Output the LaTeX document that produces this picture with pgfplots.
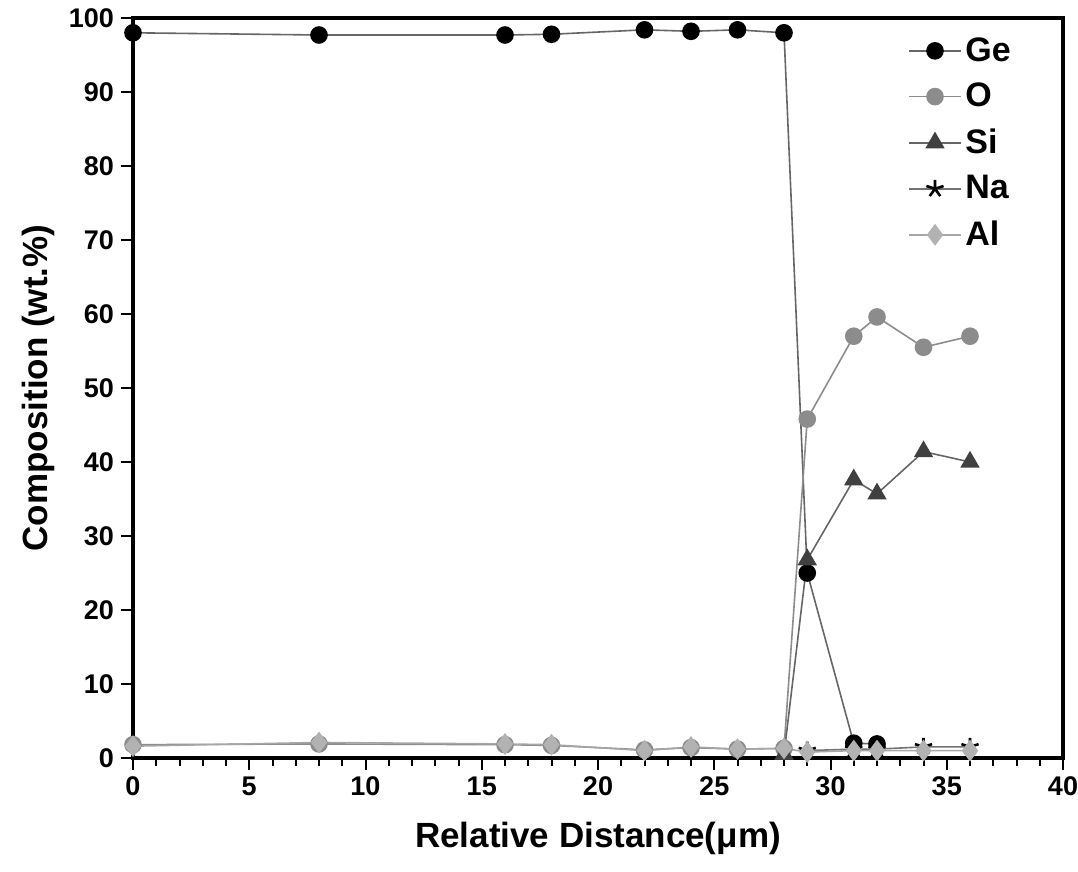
\documentclass[border=0pt]{standalone}
\usepackage{pgfplots}
\pgfplotsset{compat=1.18}
\usepackage{fontspec}
\setmainfont{Liberation Sans}
\begin{document}
\begin{tikzpicture}
\begin{axis}[name=ax,
  scale only axis, width=465pt, height=370pt,
  xmin=0, xmax=40, ymin=0, ymax=100,
  xtick={0,5,...,40}, ytick={0,10,...,100},
  minor x tick num=4,
  tick align=outside,
  xtick pos=bottom, ytick pos=left,
  major tick length=6pt, minor tick length=4pt,
  axis line style={line width=1.6pt},
  every tick/.style={line width=1pt, black},
  /pgf/number format/assume math mode=true,
  tick label style={font=\bfseries\fontsize{13.5}{15}\selectfont},
  xlabel={\textbf{Relative Distance(μm)}},
  ylabel={\textbf{Composition (wt.\%)}},
  label style={font=\bfseries\fontsize{17.5}{19}\selectfont},
  xlabel style={yshift=-6pt},
  ylabel style={yshift=0pt},
  legend style={draw=none, fill=none, at={(0.955,0.985)}, anchor=north east,
    font=\bfseries\fontsize{17}{19}\selectfont, row sep=5.5pt},
  legend cell align=left,
  legend image code/.code={\draw[mark repeat=2,mark phase=2,#1] plot coordinates {(0cm,0cm)(0.45cm,0cm)(0.9cm,0cm)};},
]
\addplot[line width=0.8pt, color=black!60, mark=*, mark size=4pt, mark options={solid, fill=black, draw=black}]
 coordinates {(0,98.0)(8,97.7)(16,97.7)(18,97.8)(22,98.4)(24,98.2)(26,98.4)(28,98.0)(29,25.0)(31,2.0)(32,1.9)};
\addlegendentry{Ge}
\addplot[line width=0.8pt, color=black!45, mark=*, mark size=4pt, mark options={solid, fill=black!45, draw=black!45}]
 coordinates {(0,1.8)(8,1.9)(16,1.8)(18,1.7)(22,1.1)(24,1.4)(26,1.2)(28,1.3)(29,45.8)(31,57.0)(32,59.6)(34,55.5)(36,57.0)};
\addlegendentry{O}
\addplot[line width=0.8pt, color=black!60, mark=triangle*, mark size=4.8pt, mark options={solid, fill=black!75, draw=black!75}]
 coordinates {(28,0.5)(29,26.8)(31,37.6)(32,35.7)(34,41.4)(36,40.0)};
\addlegendentry{Si}
\addplot[line width=0.8pt, color=black!55, mark=star, mark size=4.5pt, mark options={solid, draw=black, line width=1.3pt}]
 coordinates {(29,1.0)(31,1.2)(32,1.2)(34,1.5)(36,1.5)};
\addlegendentry{Na}
\addplot[line width=0.8pt, color=black!35, mark=diamond*, mark size=4.8pt, mark options={solid, fill=black!30, draw=black!30}]
 coordinates {(0,1.6)(8,2.1)(16,1.9)(18,1.8)(22,1.0)(24,1.5)(26,1.2)(28,1.3)(29,0.8)(31,1.0)(32,1.0)(34,1.0)(36,1.0)};
\addlegendentry{Al}
\end{axis}
\pgfresetboundingbox
\path ([xshift=-66.5pt,yshift=-56.5pt]ax.south west) rectangle ([xshift=7.5pt,yshift=9pt]ax.north east);
\end{tikzpicture}
\end{document}
